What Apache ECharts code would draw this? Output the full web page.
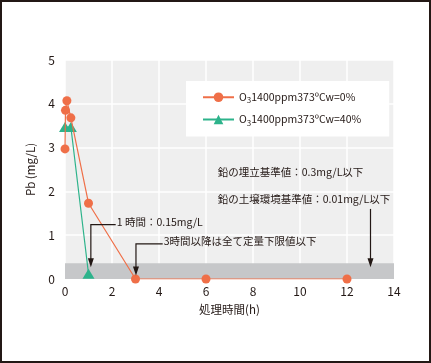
<!DOCTYPE html>
<html><head><meta charset="utf-8">
<script src="https://cdn.jsdelivr.net/npm/echarts@6/dist/echarts.min.js"></script>
<style>html,body{margin:0;padding:0;background:#fff}#c{width:431px;height:363px}</style>
</head><body><div id="c"></div>
<script>
const seriesNames = ['O{s|3}1400ppm373ºCw=0%', 'O{s|3}1400ppm373ºCw=40%'];
const cw0 = [[0, 2.97], [0.02, 3.85], [0.08, 4.07], [0.25, 3.68], [1, 1.73], [3, 0], [6, 0], [12, 0]];
const cw40 = [[0, 3.47], [0.25, 3.47], [1, 0.12]];
const xTicks = [0, 2, 4, 6, 8, 10, 12, 14];
const yTicks = [0, 1, 2, 3, 4, 5];
const bandTop = 0.36;
const notes = [
  {text: '鉛の埋立基準値：0.3mg/L以下', x: 6.5, y: 2.4},
  {text: '鉛の土壌環境基準値：0.01mg/L以下', x: 6.5, y: 1.78}
];
const arrows = [
  {text: '1 時間：0.15mg/L', tx: 2.2, ty: 1.24, ax: 1.1, tip: 0.27},
  {text: '3時間以降は全て定量下限値以下', tx: 4.2, ty: 0.8, ax: 3.02, tip: 0.08},
  {text: null, ax: 13.0, top: 1.6, tip: 0.27}
];
const ink = '#231815';
const font = '"Noto Sans CJK JP", "Noto Sans", sans-serif';
const chart = echarts.init(document.getElementById('c'));
const rich = {s: {fontSize: 8, verticalAlign: 'bottom', padding: [6, 0, 0, 0], fontFamily: font, color: ink}};
chart.setOption({
  animation: false,
  textStyle: {fontFamily: font},
  grid: {left: 65, right: 37, top: 60, bottom: 84, show: true, backgroundColor: '#efefef', borderWidth: 0},
  legend: {
    orient: 'vertical', left: 186, top: 81, backgroundColor: '#fff',
    padding: [11, 28, 10, 16], itemWidth: 31, itemHeight: 12, itemGap: 10,
    textStyle: {fontSize: 10.5, color: ink, fontFamily: font, rich: rich},
    data: [{name: seriesNames[0]}, {name: seriesNames[1]}]
  },
  xAxis: {
    type: 'value', min: 0, max: 14, interval: 2,
    name: '処理時間(h)', nameLocation: 'middle', nameGap: 25,
    nameTextStyle: {fontSize: 11.5, color: ink},
    axisLine: {show: false}, axisTick: {show: false},
    axisLabel: {fontSize: 12, color: ink, margin: 6},
    splitLine: {lineStyle: {color: '#fff', width: 1.5}}
  },
  yAxis: {
    type: 'value', min: 0, max: 5, interval: 1,
    name: 'Pb (mg/L)', nameLocation: 'middle', nameGap: 29,
    nameTextStyle: {fontSize: 11.5, color: ink},
    axisLine: {show: false}, axisTick: {show: false},
    axisLabel: {fontSize: 12, color: ink, margin: 10},
    splitLine: {lineStyle: {color: '#fff', width: 1.5}}
  },
  series: [
    {
      name: seriesNames[0], type: 'line', data: cw0, symbol: 'circle', symbolSize: 9,
      color: '#ef6f48', lineStyle: {width: 1.2}, z: 4,
      markArea: {silent: true, itemStyle: {color: '#c6c7c9'}, data: [[{coord: [0, 0]}, {coord: [14, bandTop]}]]}
    },
    {
      name: seriesNames[1], type: 'line', data: cw40, symbol: 'triangle', symbolSize: [12, 10],
      color: '#2db38b', lineStyle: {width: 1.2}, z: 3
    }
  ]
});
const g = [];
const px = (x, y) => chart.convertToPixel({gridIndex: 0}, [x, y]);
notes.forEach(n => {
  const p = px(n.x, n.y);
  g.push({type: 'text', left: p[0], top: p[1] - 7, style: {text: n.text, fill: ink, font: '10.5px ' + font}});
});
arrows.forEach(a => {
  const tip = px(a.ax, a.tip);
  let pts;
  if (a.text) {
    const t = px(a.tx, a.ty);
    g.push({type: 'text', left: t[0], top: t[1] - 8, style: {text: a.text, fill: ink, font: '10.5px ' + font}});
    pts = [[t[0] - 1, t[1]], [tip[0], t[1]], [tip[0], tip[1] - 6]];
  } else {
    const top = px(a.ax, a.top);
    pts = [[top[0], top[1]], [tip[0], tip[1] - 6]];
  }
  g.push({type: 'polyline', shape: {points: pts}, style: {stroke: ink, lineWidth: 1.2, fill: null}, z: 10});
  g.push({type: 'polygon', shape: {points: [[tip[0] - 3, tip[1] - 9], [tip[0] + 3, tip[1] - 9], [tip[0], tip[1]]]}, style: {fill: ink}, z: 10});
});
g.push({type: 'rect', shape: {x: 1, y: 1, width: 429, height: 361}, style: {stroke: ink, lineWidth: 2, fill: null}, z: 20});
chart.setOption({graphic: g});
</script></body></html>
